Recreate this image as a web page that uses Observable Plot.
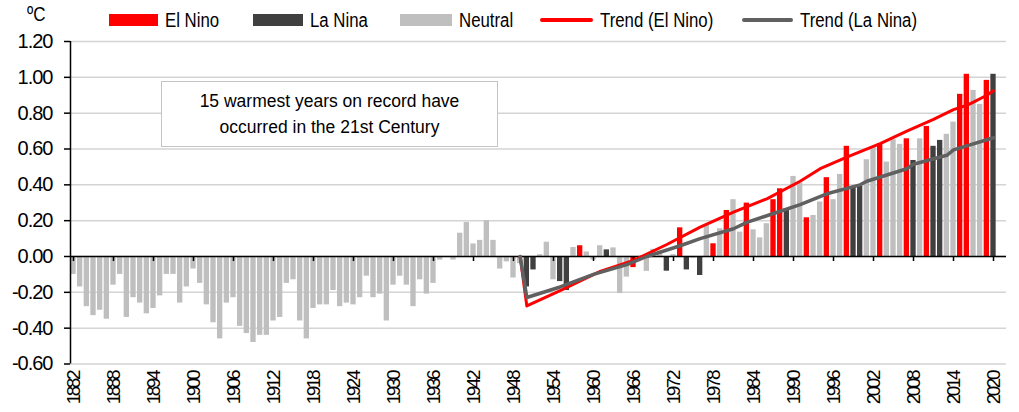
<!DOCTYPE html>
<html>
<head>
<meta charset="utf-8">
<script src="https://cdn.jsdelivr.net/npm/d3@7"></script>
<script src="https://cdn.jsdelivr.net/npm/@observablehq/plot@0.6"></script>
<style>
  body { margin: 0; background: #fff; }
  #wrap { position: relative; width: 1019px; height: 412px; overflow: hidden;
          font-family: 'Liberation Sans', Arial, sans-serif; color: #000; }
  #chart { position: absolute; left: 0; top: 0; }
  .unit { position: absolute; left: 27px; top: 3px; font-size: 20px; display: inline-block; transform: scaleX(0.85); transform-origin: left center; }
  .leg-item { position: absolute; top: 7px; height: 26px; display: flex; align-items: center; font-size: 20px; white-space: nowrap; }
  .leg-sw { display: inline-block; margin-right: 7px; flex: none; }
  .leg-txt { display: inline-block; transform: scaleX(0.84); transform-origin: left center; }
  .note { position: absolute; left: 161px; top: 81px; width: 337px; height: 66px; box-sizing: border-box;
          border: 1.5px solid #c4c4c4; background: #fff; text-align: center;
          font-family: 'Liberation Sans', Arial, sans-serif; font-size: 17.5px; line-height: 26px; padding-top: 6px; }
  g[aria-label="x-axis tick label"] text { letter-spacing: -2.5px; font-size: 19px; }
  g[aria-label="y-axis tick label"] text { letter-spacing: -1px; }
</style>
</head>
<body>
<div id="wrap">
  <div id="chart"></div>
  <div class="unit">ºC</div>
  <div id="legend"></div>
  <div class="note">15 warmest years on record have<br>occurred in the 21st Century</div>
</div>
<script>
// ---- data ----
const years = d3.range(1882, 2021);
const anomaly = [
  -0.10,-0.17,-0.28,-0.33,-0.30,-0.35,-0.16,-0.10,
  -0.34,-0.23,-0.26,-0.32,-0.29,-0.22,-0.10,-0.10,-0.26,-0.17,
  -0.07,-0.15,-0.27,-0.37,-0.46,-0.26,-0.23,-0.39,-0.43,-0.48,
  -0.44,-0.44,-0.36,-0.34,-0.15,-0.13,-0.36,-0.46,-0.29,-0.27,
  -0.27,-0.19,-0.28,-0.26,-0.27,-0.23,-0.11,-0.23,-0.21,-0.36,
  -0.16,-0.11,-0.16,-0.28,-0.13,-0.21,-0.15,-0.02,-0.005,-0.02,
  0.13,0.19,0.07,0.09,0.20,0.09,-0.07,-0.03,-0.12,-0.04,
  -0.17,-0.075,0.01,0.08,-0.13,-0.14,-0.19,0.05,0.06,0.025,
  -0.02,0.06,0.037,0.048,-0.207,-0.115,-0.062,-0.01,-0.083,0.04,
  0.03,-0.082,0.01,0.16,-0.075,-0.01,-0.106,0.173,0.071,0.155,
  0.257,0.317,0.136,0.298,0.149,0.104,0.183,0.317,0.378,0.266,
  0.447,0.41,0.216,0.229,0.304,0.44,0.317,0.458,0.615,0.387,
  0.391,0.54,0.607,0.63,0.527,0.652,0.626,0.657,0.536,0.657,
  0.726,0.615,0.648,0.682,0.75,0.905,1.017,0.927,0.849,0.983,1.017
];
const elNinoYears = [1958,1966,1973,1978,1980,1983,1987,1988,1992,1995,1998,2003,2007,2010,2015,2016,2019];
const laNinaYears = [1950,1951,1955,1956,1962,1971,1974,1976,1989,1999,2000,2008,2011,2012,2020];

const trendElNinoYears = [1949,1950,1955,1961,1966,1971,1976,1981,1986,1991,1994,1998,2003,2007,2011,2014,2016,2017,2019,2020];
const trendElNino      = [0,-0.276,-0.19,-0.083,-0.022,0.067,0.164,0.248,0.322,0.42,0.49,0.555,0.63,0.70,0.765,0.82,0.844,0.862,0.90,0.925];
const trendLaNinaYears = [1949,1950,1955,1960,1965,1968,1973,1976,1981,1983,1987,1991,1995,2000,2001,2007,2008,2013,2014,2020];
const trendLaNina      = [0,-0.229,-0.17,-0.10,-0.045,0.0,0.06,0.10,0.155,0.19,0.24,0.29,0.35,0.40,0.42,0.49,0.515,0.565,0.595,0.663];

const xTickLabels = [1882,1888,1894,1900,1906,1912,1918,1924,1930,1936,1942,1948,1954,1960,1966,1972,1978,1984,1990,1996,2002,2008,2014,2020];
const yTicks = [-0.6,-0.4,-0.2,0,0.2,0.4,0.6,0.8,1.0,1.2];

const legendLabels = ["El Nino","La Nina","Neutral","Trend (El Nino)","Trend (La Nina)"];
const legendColors = ["#ff0000","#404040","#bfbfbf","#ff0000","#606060"];
const legendKinds  = ["bar","bar","bar","line","line"];

// ---- build ----
const phaseColor = {E: "#ff0000", L: "#404040", N: "#bfbfbf"};
const rows = years.map((year, i) => ({
  year, value: anomaly[i],
  phase: elNinoYears.includes(year) ? "E" : laNinaYears.includes(year) ? "L" : "N"
}));
const trendE = trendElNinoYears.map((year, i) => ({year, value: trendElNino[i]}));
const trendL = trendLaNinaYears.map((year, i) => ({year, value: trendLaNina[i]}));
const xDomain = [1881.55, 2021.95];

const chart = Plot.plot({
  width: 1019, height: 412,
  marginLeft: 70, marginRight: 13, marginTop: 41, marginBottom: 48.5,
  x: {type: "linear", domain: xDomain},
  y: {domain: [-0.6, 1.2]},
  style: {fontFamily: "'Liberation Sans', Arial, sans-serif", fontSize: "20px", color: "#000", background: "transparent", overflow: "visible"},
  marks: [
    Plot.gridY(yTicks, {stroke: "#d4d4d4", strokeOpacity: 1, strokeWidth: 1.5}),
    Plot.rect(rows, {x1: d => d.year - 0.4, x2: d => d.year + 0.4, y1: d => 0, y2: "value", fill: d => phaseColor[d.phase]}),
    Plot.ruleY([0], {stroke: "#000", strokeWidth: 1.5}),
    Plot.ruleX(xTickLabels, {y1: d => 0, y2: d => -0.028, stroke: "#000", strokeWidth: 1.5}),
    Plot.ruleX([xDomain[0]], {y1: d => -0.6, y2: d => 1.2, stroke: "#000", strokeWidth: 1.5}),
    Plot.line(trendE, {x: "year", y: "value", stroke: "#ff0000", strokeWidth: 3}),
    Plot.line(trendL, {x: "year", y: "value", stroke: "#606060", strokeWidth: 3.5}),
    Plot.axisY(yTicks, {tickSize: 6, tickPadding: 12, strokeWidth: 1.5, tickFormat: d => d.toFixed(2), label: null}),
    Plot.axisX(xTickLabels, {tickSize: 0, tickPadding: 8, tickRotate: -90, tickFormat: d => String(d), label: null})
  ]
});
document.getElementById("chart").appendChild(chart);

// legend
const legendLeft = [109, 253, 400, 540, 742];
const legendSwatchW = [49, 50, 52, 53, 51];
const legend = document.getElementById("legend");
legendLabels.forEach((label, i) => {
  const item = document.createElement("div");
  item.className = "leg-item";
  item.style.left = legendLeft[i] + "px";
  const sw = document.createElement("span");
  sw.className = "leg-sw";
  sw.style.width = legendSwatchW[i] + "px";
  sw.style.background = legendColors[i];
  sw.style.height = legendKinds[i] === "bar" ? "12px" : "3.5px";
  if (legendKinds[i] === "line") sw.style.borderRadius = "2px";
  item.appendChild(sw);
  const t = document.createElement("span");
  t.className = "leg-txt";
  t.textContent = label;
  item.appendChild(t);
  legend.appendChild(item);
});
</script>
</body>
</html>
